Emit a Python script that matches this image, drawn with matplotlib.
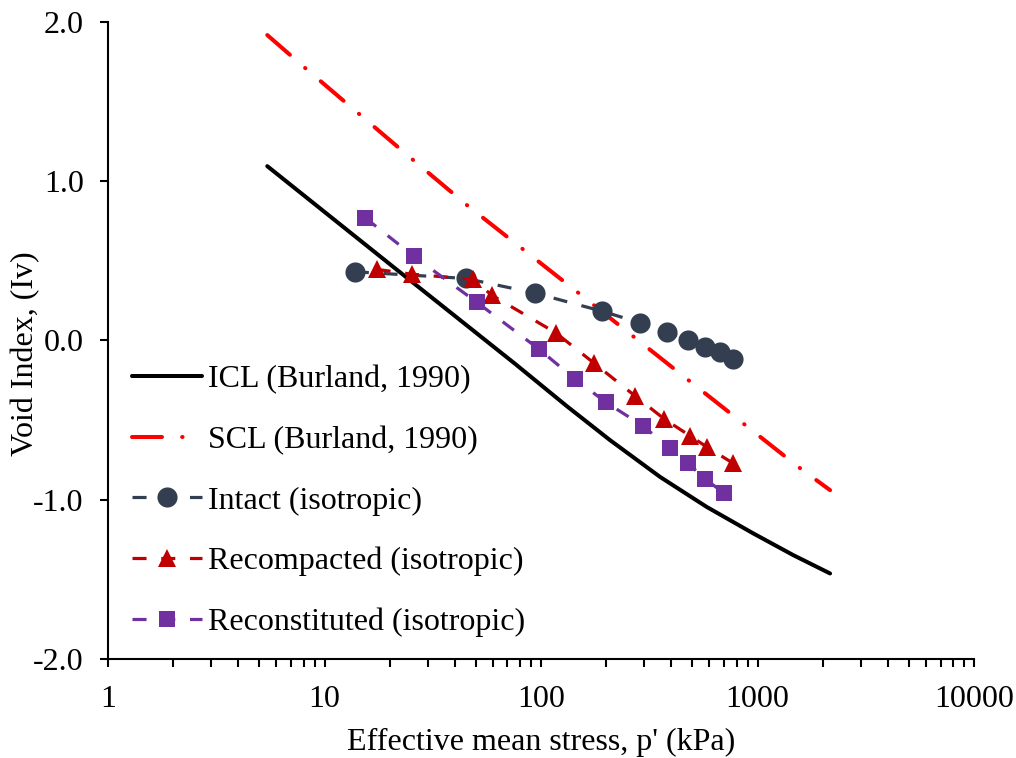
import matplotlib
matplotlib.use('Agg')
import matplotlib.pyplot as plt
from matplotlib.ticker import LogLocator, NullFormatter, FormatStrFormatter

plt.rcParams['font.family'] = ['Liberation Serif', 'DejaVu Serif']
plt.rcParams['font.size'] = 23

# ICL / SCL (Burland, 1990)
icl_p = [5.44, 21.2, 75.9, 131.4, 208.3, 354.8, 582, 957, 1463, 2163]
icl_iv = [1.094, 0.452, -0.147, -0.412, -0.626, -0.857, -1.045, -1.212, -1.348, -1.463]

scl_p = [5.44, 8.27, 25.9, 45.9, 148.6, 479, 1543, 2163]
scl_iv = [1.917, 1.702, 1.128, 0.845, 0.299, -0.249, -0.794, -0.940]

# test data
intact_p = [13.8, 44.9, 93.8, 190.6, 286.4, 383, 479, 574, 673, 773]
intact_iv = [0.431, 0.389, 0.297, 0.184, 0.111, 0.052, 0.002, -0.040, -0.075, -0.119]

recomp_p = [17.4, 25.3, 48.7, 59.2, 116.9, 176.3, 272.7, 371.5, 487.5, 582, 773]
recomp_iv = [0.446, 0.416, 0.383, 0.284, 0.048, -0.144, -0.350, -0.494, -0.599, -0.668, -0.772]

recon_p = [15.4, 25.8, 50.6, 97.9, 143.6, 199.7, 295, 394.5, 477.5, 574, 698]
recon_iv = [0.770, 0.529, 0.239, -0.055, -0.243, -0.389, -0.536, -0.678, -0.772, -0.871, -0.957]

xticks = [1, 10, 100, 1000, 10000]
xtick_labels = ['1', '10', '100', '1000', '10000']
yticks = [-2.0, -1.0, 0.0, 1.0, 2.0]

fig = plt.figure(figsize=(10.16, 7.58), dpi=100)
ax = fig.add_axes([0.1063, 0.1306, 0.8524, 0.8406])

ax.plot(icl_p, icl_iv, color='black', lw=2.9, solid_capstyle='round',
        label='ICL (Burland, 1990)')
ax.plot(scl_p, scl_iv, color='#FF0000', lw=2.9, dashes=(7.45, 5, 0.1, 5),
        dash_capstyle='round', label='SCL (Burland, 1990)')
ax.plot(intact_p, intact_iv, color='#333F50', lw=2.3, dashes=(4.4, 4.6),
        marker='o', ms=14.5, mew=0, label='Intact (isotropic)')
ax.plot(recomp_p, recomp_iv, color='#C00000', lw=2.3, dashes=(4.4, 4.6),
        marker='^', ms=12.5, mew=0, label='Recompacted (isotropic)')
ax.plot(recon_p, recon_iv, color='#7030A0', lw=2.3, dashes=(4.4, 4.6),
        marker='s', ms=12, mew=0, label='Reconstituted (isotropic)')

ax.set_xscale('log')
ax.set_xlim(1, 10000)
ax.set_ylim(-2, 2)
ax.set_xticks(xticks)
ax.set_xticklabels(xtick_labels)
ax.xaxis.set_minor_locator(LogLocator(base=10, subs=range(2, 10)))
ax.xaxis.set_minor_formatter(NullFormatter())
ax.set_yticks(yticks)
ax.yaxis.set_major_formatter(FormatStrFormatter('%.1f'))

for s in ['top', 'right']:
    ax.spines[s].set_visible(False)
for s in ['left', 'bottom']:
    ax.spines[s].set_linewidth(1.5)
ax.tick_params(axis='both', which='both', direction='out', length=5.5, width=1.5)
ax.tick_params(axis='y', pad=12)
ax.tick_params(axis='x', which='major', pad=13.5)

ax.set_xlabel("Effective mean stress, p' (kPa)", labelpad=10)
ax.set_ylabel('Void Index, (Iv)')
ax.yaxis.set_label_coords(-0.078, 0.479)

ax.legend(loc='upper left', bbox_to_anchor=(0.0274, 0.4616), frameon=False,
          borderpad=0, borderaxespad=0, handlelength=2.2, handletextpad=0.2,
          labelspacing=0.98, numpoints=1)

fig.savefig('out.png', dpi=100)
